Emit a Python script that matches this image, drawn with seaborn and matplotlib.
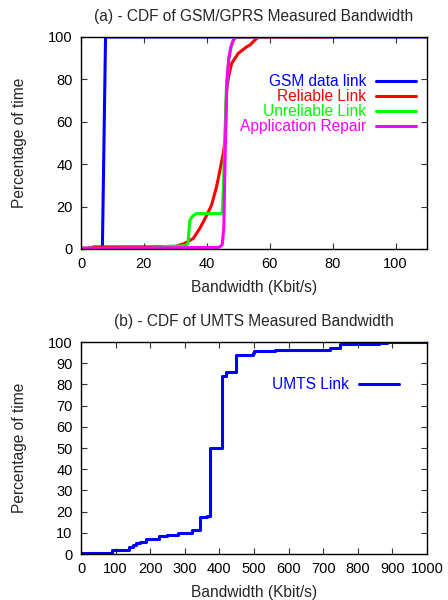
import numpy as np
import pandas as pd
import matplotlib
matplotlib.use("Agg")
import matplotlib.pyplot as plt
import seaborn as sns

# ---- data: panel (a) GSM/GPRS ----
gsm_x = [0, 6.8, 7.8, 110]
gsm_y = [0.3, 0.3, 100, 100]

rel_x = [0, 3.0, 4.0, 22, 30, 32.5, 34, 35.7, 37.8, 40, 41.5, 43.1, 44.2, 45.2, 45.8, 46.3, 47.0, 47.9, 50, 52.7, 53.7, 55.3, 56.4, 79]
rel_y = [0.3, 0.5, 1.0, 1.0, 1.2, 2.4, 3.5, 5.0, 9.8, 16.0, 20.7, 29.4, 37.3, 45.0, 51.4, 75.0, 82.0, 87.6, 92.3, 95.4, 96.2, 98.6, 99.9, 100]

unrel_x = [0, 22, 27, 33, 34.0, 34.6, 35.5, 36.6, 44.6, 45.0, 45.6, 46.2, 47.0, 48.0, 49.0, 79]
unrel_y = [0.3, 0.3, 1.2, 1.5, 2.5, 13.5, 15.5, 16.7, 16.7, 18.0, 45.0, 75.0, 90.0, 97.0, 100, 100]

app_x = [0, 22, 44.0, 44.9, 45.4, 45.9, 46.4, 47.0, 47.6, 48.4, 49.3, 79]
app_y = [0.3, 0.5, 0.8, 2.0, 10.0, 50.0, 80.0, 90.0, 95.0, 98.5, 100, 100]

# ---- data: panel (b) UMTS ----
umts_x = [0, 90, 140, 150, 160, 170, 188, 225, 248, 280, 320, 344, 365, 373, 407, 418, 447, 496, 500, 560, 720, 748, 860, 885, 1000]
umts_y = [0.7, 2.0, 3.5, 4.3, 5.0, 5.8, 7.0, 8.5, 9.1, 10.0, 11.5, 17.5, 18.0, 49.8, 84.0, 86.0, 94.0, 95.0, 95.6, 96.4, 97.0, 99.2, 99.6, 100, 100]

series_a = [
    ("GSM data link", gsm_x, gsm_y, "#0000ff"),
    ("Reliable Link", rel_x, rel_y, "#ff0000"),
    ("Unreliable Link", unrel_x, unrel_y, "#00ff00"),
    ("Application Repair", app_x, app_y, "#ff00ff"),
]

sns.set_theme(style="ticks")
plt.rcParams['font.family'] = ['Liberation Sans', 'DejaVu Sans']
FS_T = 10.5
FS = 11.2

fig = plt.figure(figsize=(4.48, 6.0), dpi=100)
ax1 = fig.add_axes([81/448, 1-249/600, 346/448, 212/600])
ax2 = fig.add_axes([81/448, 1-554/600, 346/448, 212/600])

for name, xs, ys, c in series_a:
    df = pd.DataFrame({"x": xs, "y": ys})
    sns.lineplot(data=df, x="x", y="y", ax=ax1, color=c, lw=2.2, sort=False,
                 estimator=None, label=name)

dfu = pd.DataFrame({"x": umts_x, "y": umts_y})
sns.lineplot(data=dfu, x="x", y="y", ax=ax2, color="#0000ff", lw=2.2, sort=False,
             estimator=None, drawstyle="steps-post", label="UMTS Link")

def style(ax, xlim, xticks, yticks, title):
    ax.set_xlim(*xlim)
    ax.set_ylim(0, 100)
    ax.set_xticks(xticks)
    ax.set_yticks(yticks)
    ax.tick_params(direction="in", length=4, width=0.8, top=True, right=True,
                   labelsize=FS_T, color="#333333", labelcolor="black")
    ax.tick_params(axis="x", pad=6)
    ax.tick_params(axis="y", pad=6)
    for s in ax.spines.values():
        s.set_visible(True)
        s.set_linewidth(1.0)
        s.set_color("black")
    ax.set_xlabel("Bandwidth (Kbit/s)", fontsize=FS, labelpad=6)
    ax.set_ylabel("Percentage of time", fontsize=FS, labelpad=15)
    ax.set_title(title, fontsize=FS, pad=11.5)

style(ax1, (0, 110), np.arange(0, 101, 20), np.arange(0, 101, 20),
      "(a) - CDF of GSM/GPRS Measured Bandwidth")
style(ax2, (0, 1000), np.arange(0, 1001, 100), np.arange(0, 101, 10),
      "(b) - CDF of UMTS Measured Bandwidth")

ax1.legend(loc="upper right", bbox_to_anchor=((416-81)/346, (249-74)/212),
           frameon=False, markerfirst=False, labelcolor="linecolor",
           fontsize=FS, handlelength=2.6, handletextpad=0.6,
           labelspacing=0.0, borderpad=0, borderaxespad=0)
ax2.legend(loc="upper right", bbox_to_anchor=((399-81)/346, (554-377)/212),
           frameon=False, markerfirst=False, labelcolor="linecolor",
           fontsize=FS, handlelength=2.6, handletextpad=0.6,
           borderpad=0, borderaxespad=0)

fig.savefig("out.png", dpi=100)
